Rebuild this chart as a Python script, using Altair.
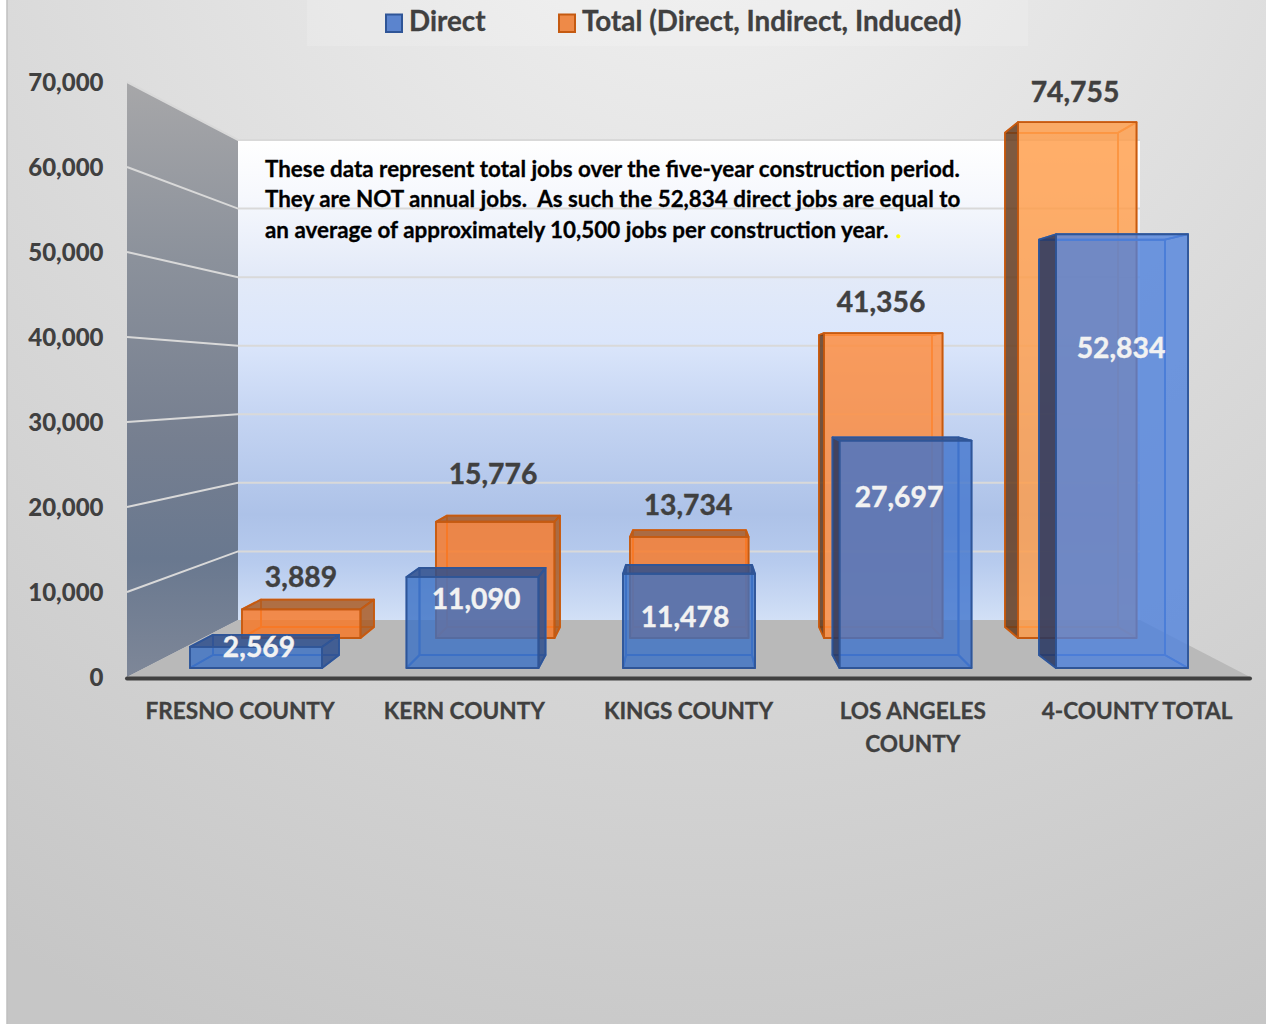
import altair as alt
import pandas as pd

# Construction jobs by county
categories = ["FRESNO COUNTY", "KERN COUNTY", "KINGS COUNTY", "LOS ANGELES\nCOUNTY", "4-COUNTY TOTAL"]
direct_jobs = [2569, 11090, 11478, 27697, 52834]
total_jobs = [3889, 15776, 13734, 41356, 74755]
value_ticks = [0, 10000, 20000, 30000, 40000, 50000, 60000, 70000]
note_lines = [
    "These data represent total jobs over the five-year construction period.",
    "They are NOT annual jobs.\u00a0 As such the 52,834 direct jobs are equal to",
    "an average of approximately 10,500 jobs per construction year.",
]
legend_names = ["Direct", "Total (Direct, Indirect, Induced)"]

W, H = 1266, 1024
AXIS_MAX = 70000
AXIS_BASE, AXIS_TOP = 677, 82
AXIS_PPU = (AXIS_BASE - AXIS_TOP) / AXIS_MAX
FONT = "Lato"
INK = "#404040"

# Perspective planes of the 3-D box: first left edge, step, width, floor line, pixels per job
PLANES = {
    "direct": {
        "front": dict(left=190, step=216.5, w=132, base=668, ppu=0.00821),
        "back": dict(left=213, step=206.5, w=126, base=655, ppu=0.00786),
    },
    "total": {
        "front": dict(left=242, step=194, w=118.5, base=638, ppu=0.00737),
        "back": dict(left=261, step=186, w=113, base=627, ppu=0.00706),
    },
}
STYLE = {
    "direct": dict(
        fills=["#3a6fc4", "#3a6fc4", "#3a6fc4", "#3e72cc", "#4d80dc"], alpha=0.78,
        edge="#2f5597", inner="#4474c6",
        side="#26355f", side_alpha=0.85, shade="#2f4f8c", shade_alpha=0.85,
    ),
    "total": dict(
        fills=["#f97723", "#f97723", "#f97723", "#ff8938", "#ff9b46"], alpha=0.8,
        edge="#c55a11", inner="#ef8236",
        side="#5e3213", side_alpha=0.8, shade="#a8551c", shade_alpha=0.8,
    ),
}


def units(px):
    """Screen row expressed on the value axis."""
    return (AXIS_BASE - px) / AXIS_PPU


def on_plane(value, plane):
    """Value seen on a perspective plane, expressed on the value axis."""
    return units(plane["base"] - plane["ppu"] * min(value, AXIS_MAX))


def box_faces(series, values):
    rows = {"inner_v": [], "inner_h": [], "front": [], "outer_v": [], "outer_h": []}
    st = STYLE[series]
    for i, v in enumerate(values):
        f, b = PLANES[series]["front"], PLANES[series]["back"]
        fl, bl = f["left"] + i * f["step"], b["left"] + i * b["step"]
        fr, br = fl + f["w"], bl + b["w"]
        ft, fb = on_plane(v, f), on_plane(0, f)
        bt, bb = on_plane(v, b), on_plane(0, b)
        fill = st["fills"][i]

        def vert(group, key, xa, ya, ya2, xb, yb, yb2, colour, alpha, stroke):
            face = f"{series}-{i}-{key}"
            for x, y, y2 in ((xa, ya, ya2), (xb, yb, yb2)):
                rows[group].append(dict(face=face, x=x, y=y, y2=y2, fill=colour, alpha=alpha, stroke=stroke))

        def horiz(group, key, ya, xa, xa2, yb, xb, xb2, colour, alpha, stroke):
            face = f"{series}-{i}-{key}"
            for y, x, x2 in ((ya, xa, xa2), (yb, xb, xb2)):
                rows[group].append(dict(face=face, x=x, x2=x2, y=y, fill=colour, alpha=alpha, stroke=stroke))

        # rear wall and floor of the box, seen through the front
        vert("inner_v", "back", bl, bt, bb, br, bt, bb, fill, 0.06, st["inner"])
        horiz("inner_h", "bottom", bb, bl, br, fb, fl, fr, fill, 0.06, st["inner"])
        # sides: dark when they face the viewer, faint when inside the front rectangle
        if bl < fl:
            vert("outer_v", "left", bl, bt, bb, fl, ft, fb, st["side"], st["side_alpha"], st["edge"])
        else:
            vert("inner_v", "left", fl, ft, fb, bl, bt, bb, fill, 0.06, st["inner"])
        if br > fr:
            vert("outer_v", "right", fr, ft, fb, br, bt, bb, st["shade"], st["shade_alpha"], st["edge"])
        else:
            vert("inner_v", "right", br, bt, bb, fr, ft, fb, "#ffffff", 0.1, st["inner"])
        if bt > ft:
            horiz("outer_h", "top", ft, fl, fr, bt, bl, br, st["shade"], st["shade_alpha"], st["edge"])
        else:
            horiz("inner_h", "top", bt, bl, br, ft, fl, fr, "#ffffff", 0.1, st["inner"])
        vert("front", "front", fl, ft, fb, fr, ft, fb, fill, st["alpha"], st["edge"])
    return {k: pd.DataFrame(r) for k, r in rows.items() if r}


x_scale = alt.Scale(domain=[0, W], range=[0, W], nice=False, zero=False)
y_scale = alt.Scale(domain=[0, AXIS_MAX], range=[AXIS_BASE, AXIS_TOP], nice=False, zero=False)
X = alt.X("x:Q", scale=x_scale, axis=None)
Y = alt.Y("y:Q", scale=y_scale, axis=None, stack=False)


def vertical_faces(df):
    return alt.Chart(df).mark_area(strokeWidth=1.8, strokeJoin="round").encode(
        x=X, y=Y, y2="y2:Q", detail="face:N",
        fill=alt.Fill("fill:N", scale=None), stroke=alt.Stroke("stroke:N", scale=None),
        fillOpacity=alt.FillOpacity("alpha:Q", scale=None),
    )


def horizontal_faces(df):
    return alt.Chart(df).mark_area(orient="horizontal", strokeWidth=1.8, strokeJoin="round").encode(
        y=Y, x=X, x2="x2:Q", detail="face:N",
        fill=alt.Fill("fill:N", scale=None), stroke=alt.Stroke("stroke:N", scale=None),
        fillOpacity=alt.FillOpacity("alpha:Q", scale=None),
    )


def gradient(stops):
    return alt.LinearGradient(
        gradient="linear", x1=0, x2=0, y1=0, y2=1,
        stops=[alt.GradientStop(offset=o, color=c) for o, c in stops],
    )


layers = []

# Page background
layers.append(
    alt.Chart(pd.DataFrame({"k": [0]})).mark_rect(
        color=alt.RadialGradient(
            gradient="radial", x1=0.55, y1=-0.05, r1=0, x2=0.55, y2=-0.05, r2=1.05,
            stops=[
                alt.GradientStop(offset=0, color="#f3f3f3"),
                alt.GradientStop(offset=0.5, color="#dcdcdc"),
                alt.GradientStop(offset=1, color="#c6c6c6"),
            ],
        ),
        stroke="#c0c0c0", strokeWidth=1.5,
    ).encode(x=alt.value(7), x2=alt.value(W + 3), y=alt.value(-3), y2=alt.value(H + 3))
)
layers.append(
    alt.Chart(pd.DataFrame({"k": [0]})).mark_rect(color="#ffffff", opacity=0.15).encode(
        x=alt.value(307), x2=alt.value(1028), y=alt.value(0), y2=alt.value(46)
    )
)

# Chart walls and floor
WALL_L, WALL_R, WALL_TOP, WALL_BASE, FLOOR_R = 238, 1140, 140, 620, 1250
layers.append(
    alt.Chart(pd.DataFrame({"x": [WALL_L, WALL_R], "y": [units(WALL_TOP)] * 2, "y2": [units(WALL_BASE)] * 2}))
    .mark_area(color=gradient([
        (0, "#ffffff"), (0.12, "#f6f8fd"), (0.28, "#e3eaf8"), (0.42, "#dbe6fb"),
        (0.58, "#c4d4f2"), (0.78, "#adc2e8"), (0.88, "#b7cbee"), (1, "#d2e0f6"),
    ]))
    .encode(x=X, y=Y, y2="y2:Q")
)
layers.append(
    alt.Chart(pd.DataFrame({
        "x": [127, WALL_L], "y": [units(AXIS_TOP), units(WALL_TOP)], "y2": [units(AXIS_BASE), units(WALL_BASE)],
    }))
    .mark_area(color=gradient([
        (0, "#a7a7a9"), (0.3, "#8b919b"), (0.6, "#767f90"), (0.8, "#69788f"), (1, "#7e8798"),
    ]))
    .encode(x=X, y=Y, y2="y2:Q")
)
layers.append(
    alt.Chart(pd.DataFrame({
        "x": [127, WALL_L, WALL_R, FLOOR_R],
        "y": [units(AXIS_BASE), units(WALL_BASE), units(WALL_BASE), units(AXIS_BASE)],
        "y2": [units(AXIS_BASE)] * 4,
    }))
    .mark_area(color="#b9b9b9")
    .encode(x=X, y=Y, y2="y2:Q")
)

# Gridlines running along the side wall and across the rear wall
wall_ppu = (WALL_BASE - WALL_TOP) / AXIS_MAX
grid_rows = []
for t in value_ticks[1:]:
    grid_rows += [
        dict(tick=t, order=0, x=127, y=t),
        dict(tick=t, order=1, x=WALL_L, y=units(WALL_BASE - wall_ppu * t)),
        dict(tick=t, order=2, x=WALL_R, y=units(WALL_BASE - wall_ppu * t)),
    ]
layers.append(
    alt.Chart(pd.DataFrame(grid_rows)).mark_line(color="#d9d9d9", strokeWidth=2).encode(
        x=X, y=Y, detail="tick:N", order="order:Q"
    )
)
layers.append(
    alt.Chart(pd.DataFrame({"x": [127, FLOOR_R], "y": [units(678.5)] * 2}))
    .mark_line(color="#404040", strokeWidth=4, strokeCap="round")
    .encode(x=X, y=Y)
)

# The boxes: total series behind, direct series in front
for series, values in (("total", total_jobs), ("direct", direct_jobs)):
    faces = box_faces(series, values)
    layers.append(vertical_faces(faces["inner_v"]))
    layers.append(horizontal_faces(faces["inner_h"]))
    layers.append(vertical_faces(faces["front"]))
    if "outer_v" in faces:
        layers.append(vertical_faces(faces["outer_v"]))
    if "outer_h" in faces:
        layers.append(horizontal_faces(faces["outer_h"]))

# Value labels, placed by hand on the chart
total_label_at = [(301, 579), (493, 476), (688, 507), (881, 304), (1075, 94)]
direct_label_at = [(259, 649), (476, 601), (685, 619), (899, 499), (1121, 350)]
label_rows = [
    dict(x=px, y=units(py), text=f"{v:,}", ink=INK) for v, (px, py) in zip(total_jobs, total_label_at)
] + [
    dict(x=px, y=units(py), text=f"{v:,}", ink="#f2f2f2") for v, (px, py) in zip(direct_jobs, direct_label_at)
]
layers.append(
    alt.Chart(pd.DataFrame(label_rows))
    .mark_text(font=FONT, fontWeight="bold", fontSize=28.3, baseline="middle", align="center", strokeWidth=0.4)
    .encode(x=X, y=Y, text="text:N", color=alt.Color("ink:N", scale=None), stroke=alt.Stroke("ink:N", scale=None))
)

# Category labels under the floor
cat_rows = [dict(x=240 + 224.25 * i, y=units(701), text=c) for i, c in enumerate(categories)]
layers.append(
    alt.Chart(pd.DataFrame(cat_rows))
    .mark_text(font=FONT, fontWeight="bold", fontSize=22.6, baseline="top", align="center",
               lineBreak="\n", lineHeight=33, color=INK, stroke=INK, strokeWidth=0.3)
    .encode(x=X, y=Y, text="text:N")
)

# Explanatory note on the rear wall
note_rows = [dict(x=265, y=units(169.5 + 30.5 * i), text=t) for i, t in enumerate(note_lines)]
layers.append(
    alt.Chart(pd.DataFrame(note_rows))
    .mark_text(font=FONT, fontWeight="bold", fontSize=22.4, baseline="middle", align="left",
               color="#000000", stroke="#000000", strokeWidth=0.3)
    .encode(x=X, y=Y, text="text:N")
)
layers.append(
    alt.Chart(pd.DataFrame({"x": [896], "y": [units(230.5)], "text": ["."]}))
    .mark_text(font=FONT, fontWeight="bold", fontSize=22.4, baseline="middle", align="left",
               color="#ffff00", stroke="#ffff00", strokeWidth=0.6)
    .encode(x=X, y=Y, text="text:N")
)

# Legend along the top edge
swatches = pd.DataFrame([
    dict(x=386, x2=402, y=units(14.5), y2=units(32), fill="#5b84ce", stroke="#2f5597"),
    dict(x=559, x2=575, y=units(14.5), y2=units(32), fill="#ee8a48", stroke="#c55a11"),
])
layers.append(
    alt.Chart(swatches).mark_rect(strokeWidth=2).encode(
        x=X, x2="x2:Q", y=Y, y2="y2:Q",
        fill=alt.Fill("fill:N", scale=None), stroke=alt.Stroke("stroke:N", scale=None),
    )
)
layers.append(
    alt.Chart(pd.DataFrame([
        dict(x=409, y=units(23), text=legend_names[0]),
        dict(x=582, y=units(23), text=legend_names[1]),
    ]))
    .mark_text(font=FONT, fontWeight="bold", fontSize=27.8, baseline="middle", align="left",
               color=INK, stroke=INK, strokeWidth=0.3)
    .encode(x=X, y=Y, text="text:N")
)

# Value axis, drawn inside the chart area to the left of the side wall
layers.append(
    alt.Chart(pd.DataFrame({"x": [0], "y": [0]})).mark_point(opacity=0).encode(
        x=X,
        y=alt.Y("y:Q", scale=y_scale, axis=alt.Axis(
            values=value_ticks, format=",d", title=None, domain=False, ticks=False, grid=False,
            orient="left", offset=-103, labelPadding=0, labelFont=FONT, labelFontWeight=900,
            labelFontSize=24, labelColor=INK, labelFlush=False, labelOverlap=False, labelOffset=1, zindex=2,
        )),
    )
)

chart = (
    alt.layer(*layers)
    .resolve_axis(y="independent")
    .properties(width=W, height=H, padding=0, autosize=alt.AutoSizeParams(type="none"), background="#ffffff")
    .configure_view(strokeWidth=0)
)
chart.save("out.html", embed_options={"renderer": "svg", "actions": False})
